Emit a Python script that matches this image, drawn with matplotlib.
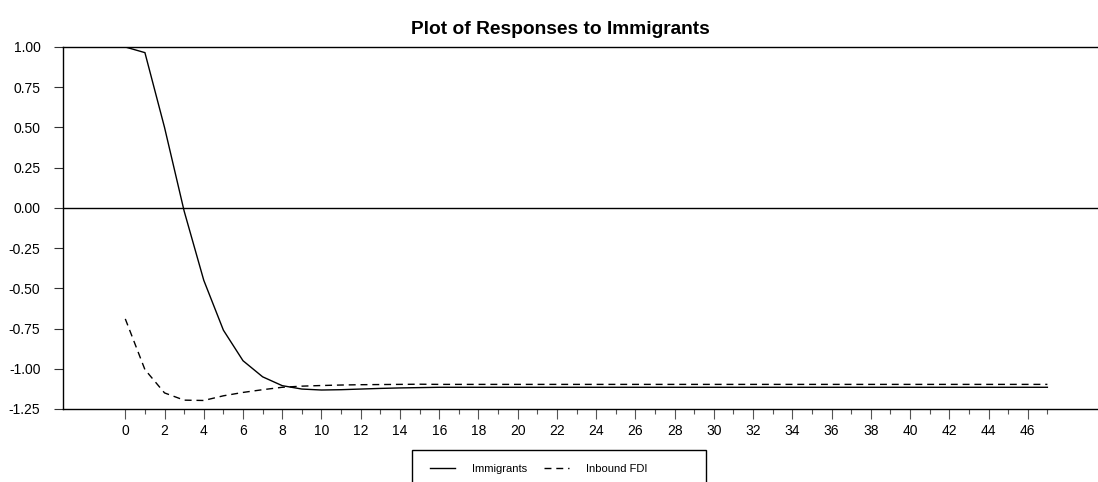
import matplotlib
matplotlib.use("Agg")
import matplotlib.pyplot as plt
from matplotlib.lines import Line2D
from matplotlib.patches import Rectangle

# response horizon (steps 0..47)
steps = list(range(48))

immigrants = [1.00, 0.965, 0.50, -0.02, -0.45, -0.76, -0.95, -1.05, -1.105, -1.126,
              -1.132, -1.130, -1.126, -1.122, -1.119, -1.117] + [-1.115] * 32

inbound_fdi = [-0.69, -1.005, -1.15, -1.195, -1.197, -1.168, -1.147, -1.130, -1.115, -1.108,
               -1.104, -1.101, -1.099, -1.098, -1.097, -1.096] + [-1.097] * 32

yticks = [1.00, 0.75, 0.50, 0.25, 0.00, -0.25, -0.50, -0.75, -1.00, -1.25]
ytick_labels = ["1.00", "0.75", "0.50", "0.25", "0.00", "-0.25", "-0.50", "-0.75", "-1.00", "-1.25"]
xticks_major = list(range(0, 47, 2))
xticks_minor = list(range(1, 48, 2))

plt.rcParams['font.family'] = ['Liberation Sans', 'DejaVu Sans']
NARROW = ['Liberation Sans Narrow', 'Liberation Sans', 'DejaVu Sans']

W, H = 1098, 482
fig = plt.figure(figsize=(W / 100, H / 100), dpi=100)
ax = fig.add_axes([63.3 / W, (H - 409) / H, (W - 63.3) / W, 362 / H])

ax.plot(steps, immigrants, color='black', lw=1.0, solid_joinstyle='miter')
ax.plot(steps, inbound_fdi, color='black', lw=1.0, linestyle=(0, (5, 3.5)))
ax.axhline(0, color='black', lw=1.0)

ax.set_ylim(-1.25, 1.00)
ax.set_xlim(-3.16, 49.58)
ax.set_yticks(yticks)
ax.set_yticklabels(ytick_labels)
ax.set_xticks(xticks_major)
ax.set_xticks(xticks_minor, minor=True)

ax.tick_params(axis='y', direction='out', length=6.5, width=0.8, color='#333333',
               pad=10, labelsize=10)
ax.tick_params(axis='x', which='major', direction='out', length=7, width=0.8,
               color='#555555', pad=4, labelsize=10)
ax.tick_params(axis='x', which='minor', direction='out', length=3.5, width=0.8,
               color='#555555')

ax.spines['right'].set_visible(False)
for s in ('left', 'top', 'bottom'):
    ax.spines[s].set_linewidth(1.0)
    ax.spines[s].set_color('black')

fig.text(560 / W, 1 - 29 / H, "Plot of Responses to Immigrants", ha='center', va='center',
         fontsize=13.8, fontweight='bold', family=NARROW)

# legend box (bottom edge falls below the figure)
fig.patches.append(Rectangle((412 / W, -0.05), (706 - 412) / W, (H - 450) / H + 0.05,
                             transform=fig.transFigure, fill=False, edgecolor='black',
                             lw=1.0, clip_on=False))
handles = [Line2D([], [], color='black', lw=1.0),
           Line2D([], [], color='black', lw=1.0, linestyle=(0, (5, 3.5)))]
fig.legend(handles, ["Immigrants", "Inbound FDI"], loc='center left',
           bbox_to_anchor=(424 / W, 1 - 469 / H), ncol=2, frameon=False,
           prop={'family': NARROW, 'size': 8}, handlelength=2.3,
           handletextpad=1.5, columnspacing=1.5, borderpad=0)

fig.savefig("out.png", dpi=100)
